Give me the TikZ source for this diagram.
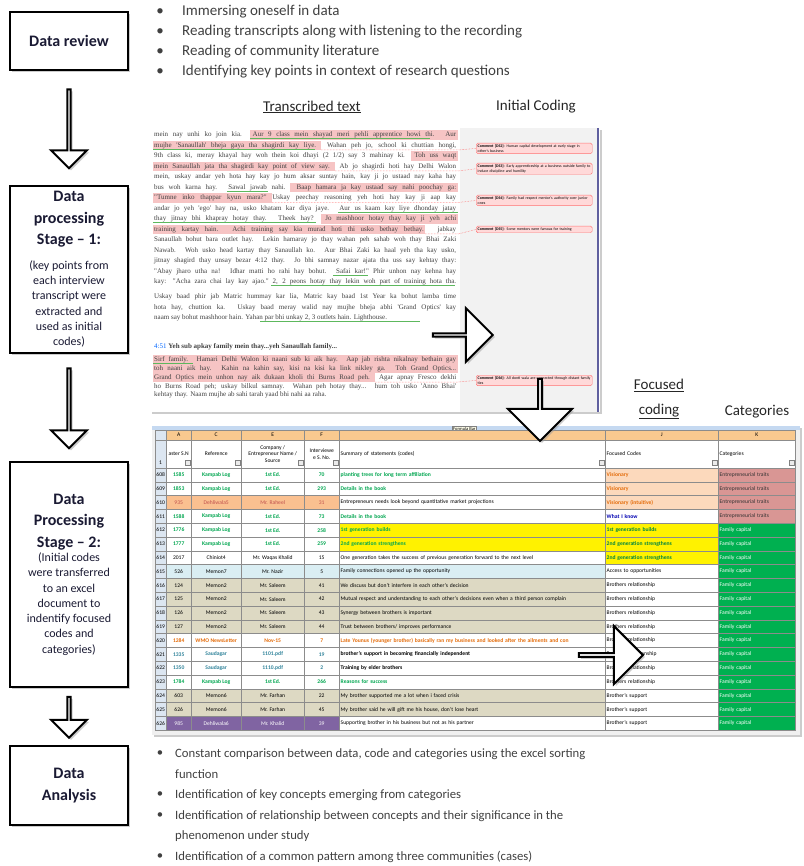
\documentclass[tikz,border=0pt]{standalone}
\usepackage{fontspec}
\setmainfont{Carlito}
\newfontfamily\transfont{Liberation Serif}
\usetikzlibrary{shapes.arrows,shadows,calc}

\definecolor{hlpink}{HTML}{F6C4C4}
\definecolor{ulgreen}{HTML}{5DB85D}
\definecolor{xlgrid}{HTML}{8C8C8C}
\definecolor{xlgreen}{HTML}{00A650}
\definecolor{xlpeach}{HTML}{FAC090}
\definecolor{xlred}{HTML}{C0504D}
\definecolor{xlblue}{HTML}{DAEEF3}
\definecolor{xltan}{HTML}{DDD9C3}
\definecolor{xlorange}{HTML}{E46C0A}
\definecolor{xlteal}{HTML}{31849B}
\definecolor{xlpurple}{HTML}{8064A2}
\definecolor{xlrose}{HTML}{D99694}
\definecolor{xlcat}{HTML}{00B050}
\definecolor{xlhead}{HTML}{F9C98F}
\definecolor{xlside}{HTML}{DCE6F1}
\definecolor{xlbar}{HTML}{C5D9F1}
\definecolor{boxtext}{HTML}{1A1A33}

\newcommand\titlefont{\bfseries\fontsize{16}{21.5}\selectfont}
\newcommand\notefont{\mdseries\fontsize{12}{15.3}\selectfont}
\newcommand\tfont{\transfont\fontsize{7}{8}\selectfont}
\newcommand\xlfont{\fontsize{5.6}{6.4}\selectfont}
\newcommand\cmfont{\fontsize{3.9}{4.6}\selectfont}

\tikzset{
  softshadow/.style={drop shadow={shadow xshift=2pt,shadow yshift=-2pt,fill=black!40}},
  stagebox/.style={draw,line width=2.5pt,fill=white,text=boxtext,font=\titlefont,minimum width=118pt,text width=112pt,align=flush center,inner sep=2pt,softshadow},
  blockarrow/.style={single arrow,draw,line width=2pt,fill=white,inner sep=0pt,single arrow head indent=0pt,softshadow},
  bul/.style={inner sep=0pt,text=black!75},
  btxt/.style={anchor=west,inner sep=0pt,text=black!75},
  lbl/.style={inner sep=0pt,font=\fontsize{15}{25}\selectfont,text=black!85},
  tline/.style={anchor=west,inner sep=0pt,font=\tfont,text=black!75},
  cmt/.style={anchor=north west,draw=red!55,fill=red!15,rounded corners=1.5pt,text width=113pt,inner sep=1.5pt,font=\cmfont,align=left},
  cmtlink/.style={red!60,densely dotted,line width=0.5pt},
  cell/.style={draw=xlgrid,line width=0.4pt,minimum height=13.8pt,inner sep=0pt,anchor=west,font=\xlfont},
  xa-g/.style={fill=white,text=xlgreen,font=\xlfont\bfseries},
  xs-g/.style={xa-g},
  xa-y/.style={xa-g},
  xs-y/.style={fill=yellow,text=xlgreen,font=\xlfont\bfseries},
  xa-o/.style={fill=xlpeach,text=xlred},
  xs-o/.style={fill=white,text=black},
  xa-k/.style={fill=white,text=black},
  xs-k/.style={xa-k},
  xa-b/.style={fill=xlblue,text=black},
  xs-b/.style={xa-b},
  xa-t/.style={fill=xltan,text=black},
  xs-t/.style={xa-t},
  xa-w/.style={fill=white,text=xlorange,font=\xlfont\bfseries},
  xs-w/.style={xa-w},
  xa-s/.style={fill=white,text=xlteal,font=\xlfont\bfseries},
  xs-s/.style={fill=white,text=black,font=\xlfont\bfseries},
  xa-p/.style={fill=xlpurple,text=white},
  xs-p/.style={xa-k},
  xj-o/.style={fill=xlpeach!60,text=xlorange,font=\xlfont\bfseries},
  xj-b/.style={fill=white,text=blue!70!black,font=\xlfont\bfseries},
  xj-y/.style={fill=yellow,text=xlgreen!80!black,font=\xlfont\bfseries},
  xj-k/.style={xa-k},
  xk-r/.style={fill=xlrose,text=black!80},
  xk-g/.style={fill=xlcat,text=white}
}

\begin{document}
\begin{tikzpicture}[x=1pt,y=-1pt]
\useasboundingbox (0,0) rectangle (803,866);

% stages
\node[stagebox,minimum height=58pt] (review) at (69,41) {Data review\par};
\node[stagebox,minimum height=167pt] (stage1) at (69,269.5) {Data\\ processing\\ Stage -- 1:\par\vspace{9pt}\notefont (key points from\\ each interview\\ transcript were\\ extracted and\\ used as initial\\ codes)\par};
\node[stagebox,minimum height=225pt] (stage2) at (69,574.5) {Data\\ Processing\\ Stage -- 2:\par\vspace{-1pt}\notefont (Initial codes\\ were transferred\\ to an excel\\ document to\\ indentify focused\\ codes and\\ categories)\par};
\node[stagebox,minimum height=79pt] (analysis) at (69,785.5) {Data\\ Analysis\par};

\node[blockarrow,rotate=-90,minimum height=79pt,minimum width=36pt,single arrow head extend=10pt] (ar1) at ($(review.south)!0.5!(stage1.north)$) {};
\node[blockarrow,rotate=-90,minimum height=80pt,minimum width=36pt,single arrow head extend=10pt] (ar2) at ($(stage1.south)!0.5!(stage2.north)$) {};
\node[blockarrow,rotate=-90,minimum height=41pt,minimum width=36pt,single arrow head extend=10pt] (ar3) at ($(stage2.south)!0.5!(analysis.north)$) {};

% bullet lists
\foreach \t [count=\nb] in {Immersing oneself in data,Reading transcripts along with listening to the recording,Reading of community literature,Identifying key points in context of research questions} {
  \node[bul,font=\fontsize{15}{18}\selectfont] (tb\nb) at (160,{12+20*(\nb-1)}) {\textbullet};
  \node[btxt,font=\fontsize{15}{18}\selectfont] (tt\nb) at (182,{12+20*(\nb-1)}) {\t};
}
\begin{scope}[every node/.append style={font=\fontsize{12.7}{15}\selectfont}]
  \node[bul] (bb1) at (160,754) {\textbullet};
  \node[bul] (bb2) at (160,795) {\textbullet};
  \node[bul] (bb3) at (160,816) {\textbullet};
  \node[bul] (bb4) at (160,857) {\textbullet};
  \node[btxt] (bl1) at (175,754) {Constant comparison between data, code and categories using the excel sorting};
  \node[btxt] (bl2) at (175,774) {function};
  \node[btxt] (bl3) at (175,795) {Identification of key concepts emerging from categories};
  \node[btxt] (bl4) at (175,816) {Identification of relationship between concepts and their significance in the};
  \node[btxt] (bl5) at (175,836) {phenomenon under study};
  \node[btxt] (bl6) at (175,857) {Identification of a common pattern among three communities (cases)};
\end{scope}

% labels
\node[lbl] (transcribed) at (312,107) {\underline{Transcribed text}};
\node[lbl] (initial) at (536,107) {Initial Coding};
\node[lbl,align=center] (focused) at (659,399) {\underline{Focused}\\\underline{coding}};
\node[lbl] (categories) at (757,412) {Categories};

% transcript screenshot
\path[fill=white,softshadow] (150,128) rectangle (600,412);
\fill[black!5] (460,128) rectangle (598,412);
\draw[blue!25!gray,line width=1.5pt] (598,128) -- (598,412);
\foreach \ya/\xa/\xb in {135/250/458,145.5/153/321,156/411/458,166.5/153/335,187.5/290/458,198/153/272,219/321/458,229.5/153/425,360/153/458,368.8/153/458,377.6/153/375}
  \fill[hlpink] (\xa,\ya-4.6) rectangle (\xb,\ya+4.6);
\foreach \ya/\xa/\xb in {135/250/430,145.5/153/315,187.5/227/268,208.5/338/458,219/153/316,271.5/333/368,282/271/455,318/260/420,360/153/193}
  \draw[ulgreen,line width=0.5pt] (\xa,\ya+3.6) -- (\xb,\ya+3.6);
\foreach \tx [count=\nl] in {
  {mein nay unhi ko join kia. Aur 9 class mein shayad meri pehli apprentice howi thi. Aur},
  {mujhe 'Sanaullah' bheja gaya tha shagirdi kay liye. Wahan peh jo, school ki chuttian hongi,},
  {9th class ki, meray khayal hay woh thein koi dhayi (2 1/2) say 3 mahinay ki. Toh uss waqt},
  {mein Sanaullah jata tha shagirdi kay point of view say. Ab jo shagirdi hoti hay Delhi Walon},
  {mein, uskay andar yeh hota hay kay jo hum aksar suntay hain, kay ji jo ustaad nay kaha hay},
  {bus woh karna hay. Sawal jawab nahi. Baap hamara ja kay ustaad say nahi poochay ga:},
  {"Tumne inko thappar kyun mara?" Uskay peechay reasoning yeh hoti hay kay ji aap kay},
  {andar jo yeh 'ego' hay na, usko khatam kar diya jaye. Aur us kaam kay liye dhonday jatay},
  {thay jitnay bhi khapray hotay thay. Theek hay? Jo mashhoor hotay thay kay ji yeh achi},
  {training kartay hain. Achi training say kia murad hoti thi usko bethay bethay. jabkay},
  {Sanaullah bohut bara outlet hay. Lekin hamaray jo thay wahan peh sahab woh thay Bhai Zaki},
  {Nawab. Woh usko head kartay thay Sanaullah ko. Aur Bhai Zaki ka haal yeh tha kay usko,},
  {jitnay shagird thay unsay bezar 4:12 thay. Jo bhi samnay nazar ajata tha uss say kehtay thay:},
  {"Abay jharo utha na! Idhar matti ho rahi hay bohut. Safai kar!" Phir unhon nay kehna hay},
  {kay: "Acha zara chai lay kay ajao." 2, 2 peons hotay thay lekin woh part of training hota tha.}}
  \node[tline] (tl\nl) at (154,{135+10.5*(\nl-1)}) {\makebox[302pt][s]{\tx}};
\node[tline] (tp1) at (154,297) {\makebox[302pt][s]{Uskay baad phir jab Matric hummay kar lia, Matric kay baad 1st Year ka bohut lamba time}};
\node[tline] (tp2) at (154,307.5) {\makebox[302pt][s]{hota hay, chuttion ka. Uskay baad meray walid nay mujhe bheja abhi 'Grand Optics' kay}};
\node[tline] (tp3) at (154,318) {naam say bohut mashhoor hain. Yahan par bhi unkay 2, 3 outlets hain. Lighthouse.};
\node[tline] (tq) at (154,347) {\textcolor{blue!60!cyan}{4:51} \textbf{Yeh sub apkay family mein thay...yeh Sanaullah family...}};
\node[tline] (ts1) at (154,360) {\makebox[302pt][s]{Sirf family. Hamari Delhi Walon ki naani sub ki aik hay. Aap jab rishta nikalnay bethain gay}};
\node[tline] (ts2) at (154,368.8) {\makebox[302pt][s]{toh naani aik hay. Kahin na kahin say, kisi na kisi ka link nikley ga. Toh Grand Optics...}};
\node[tline] (ts3) at (154,377.6) {\makebox[302pt][s]{Grand Optics mein unhon nay aik dukaan kholi thi Burns Road peh. Agar apnay Fresco dekhi}};
\node[tline] (ts4) at (154,386.4) {\makebox[302pt][s]{ho Burns Road peh; uskay bilkul samnay. Wahan peh hotay thay... hum toh usko 'Anno Bhai'}};
\node[tline] (ts5) at (154,395.2) {kehtay thay. Naam mujhe ab sahi tarah yaad bhi nahi aa raha.};

\node[cmt] (c2) at (476,143) {\textbf{Comment [DS2]:} Human capital development at early stage in other's business};
\node[cmt] (c3) at (476,163) {\textbf{Comment [DS3]:} Early apprenticeship at a business outside family to induce discipline and humility};
\node[cmt] (c4) at (476,195) {\textbf{Comment [DS4]:} Family had respect mentor's authority over junior ones};
\node[cmt] (c5) at (476,226) {\textbf{Comment [DS5]:} Some mentors were famous for training};
\node[cmt] (c6) at (476,375) {\textbf{Comment [DS6]:} All donti wala are connected through distant family ties};
\coordinate (h2) at (321,150);
\coordinate (h3) at (335,171);
\coordinate (h4) at (272,202.5);
\coordinate (h5) at (425,234);
\coordinate (h6) at (375,382);
\draw[cmtlink] (h2) -- (458,150) -- (c2.west);
\draw[cmtlink] (h3) -- (458,171) -- (c3.west);
\draw[cmtlink] (h4) -- (458,202.5) -- (c4.west);
\draw[cmtlink] (h5) -- (458,234) -- (c5.west);
\draw[cmtlink] (h6) -- (458,382) -- (c6.west);

\node[blockarrow,minimum height=60pt,minimum width=54pt,single arrow head extend=16pt] (artr) at (462,335) {};

% excel screenshot
\path[fill=black!6,softshadow] (152,426) rectangle (800,735);
\fill[xlbar] (152,426) rectangle (800,430);
\node[draw=black!50,fill=yellow!8,font=\fontsize{4.5}{5}\selectfont,inner sep=1pt,anchor=north west] (fbar) at (452,426) {Formula Bar};
\node[cell,fill=xlside,minimum width=11pt,minimum height=10pt] (corner) at (155,435) {};
\foreach \lx/\lw/\lt in {166/25/A,191/50/C,241/63/E,304/35/F,339/266/,605/113/J,718/77/K}
  \node[cell,fill=xlhead,minimum width=\lw pt,minimum height=10pt] (col\lt) at (\lx,435) {\lt};
\node[cell,fill=xlside,minimum width=11pt,minimum height=28pt] (n1) at (155,454) {};
\node[inner sep=0pt,font=\xlfont] (n1t) at (160.5,463) {1};
\node[cell,fill=white,minimum width=25pt,minimum height=28pt] (ha) at (166,454) {aster S.N};
\node[cell,fill=white,minimum width=50pt,minimum height=28pt] (hc) at (191,454) {Reference};
\node[cell,fill=white,minimum width=63pt,minimum height=28pt,align=center] (he) at (241,454) {Company /\\Entrepreneur Name /\\Source};
\node[cell,fill=white,minimum width=35pt,minimum height=28pt,align=center] (hf) at (304,454) {Interviewe\\e S. No.};
\node[cell,fill=white,text width=263pt,inner xsep=1.5pt,minimum height=28pt,align=left] (hs) at (339,454) {Summary of statements (codes)};
\node[cell,fill=white,text width=110pt,inner xsep=1.5pt,minimum height=28pt,align=left] (hj) at (605,454) {Focused Codes};
\node[cell,fill=white,text width=74pt,inner xsep=1.5pt,minimum height=28pt,align=left] (hk) at (718,454) {Categories};
\foreach \bx in {185,235,298,333,599,712,789}
  \draw[black!50,fill=black!8] (\bx,460) rectangle ++(5,5);
\foreach \row/\num/\ma/\mr/\me/\mf/\su/\fo/\ca/\sa/\sj/\sk in {
  0/608/1585/Kampab Log/1st Ed./70/planting trees for long term affiliation/Visionary/Entrepreneurial traits/g/o/r,
  1/609/1853/Kampab Log/1st Ed./293/Details in the book/Visionary/Entrepreneurial traits/g/o/r,
  2/610/935/Dehliwala5/Mr. Raheel/31/Entrepreneurs needs look beyond quantitative market projections/Visionary (intuitive)/Entrepreneurial traits/o/o/r,
  3/611/1588/Kampab Log/1st Ed./73/Details in the book/What I know/Entrepreneurial traits/g/b/r,
  4/612/1776/Kampab Log/1st Ed./258/1st generation builds/1st generation builds/Family capital/y/y/g,
  5/613/1777/Kampab Log/1st Ed./259/2nd generation strengthens/2nd generation strengthens/Family capital/y/y/g,
  6/614/2017/Chiniot4/Mr. Waqas Khalid/15/One generation takes the success of previous generation forward to the next level/2nd generation strengthens/Family capital/k/y/g,
  7/615/526/Memon7/Mr. Nazir/5/Family connections opened up the opportunity/Access to opportunities/Family capital/b/k/g,
  8/616/124/Memon2/Mr. Saleem/41/We discuss but don't interfere in each other's decision/Brothers relationship/Family capital/t/k/g,
  9/617/125/Memon2/Mr. Saleem/42/Mutual respect and understanding to each other's decisions even when a third person complain/Brothers relationship/Family capital/t/k/g,
  10/618/126/Memon2/Mr. Saleem/43/Synergy between brothers is important/Brothers relationship/Family capital/t/k/g,
  11/619/127/Memon2/Mr. Saleem/44/{Trust between brothers/ improves performance}/Brothers relationship/Family capital/t/k/g,
  12/620/1284/WMO NewsLetter/Nov-15/7/Late Younus (younger brother) basically ran my business and looked after the ailments and con/Brothers relationship/Family capital/w/k/g,
  13/621/1335/Saudagar/1101.pdf/19/brother's support in becoming financially independent/Brother's relationship/Family capital/s/k/g,
  14/622/1350/Saudagar/1110.pdf/2/Training by elder brothers/Brothers relationship/Family capital/s/k/g,
  15/623/1784/Kampab Log/1st Ed./266/Reasons for success/Brothers relationship/Family capital/g/k/g,
  16/624/603/Memon6/Mr. Farhan/22/My brother supported me a lot when i faced crisis/Brother's support/Family capital/t/k/g,
  17/625/626/Memon6/Mr. Farhan/45/{My brother said he will gift me his house, don't lose heart}/Brother's support/Family capital/t/k/g,
  18/626/985/Dehliwala6/Mr. Khalid/39/Supporting brother in his business but not as his partner/Brother's support/Family capital/p/k/g} {
  \pgfmathsetmacro\yc{474.9+13.8*\row}
  \node[cell,fill=xlside,minimum width=11pt] (n\num) at (155,\yc) {\num};
  \node[cell,xa-\sa,minimum width=25pt] (a\num) at (166,\yc) {\ma};
  \node[cell,xa-\sa,minimum width=50pt] (r\num) at (191,\yc) {\mr};
  \node[cell,xa-\sa,minimum width=63pt] (e\num) at (241,\yc) {\me};
  \node[cell,xa-\sa,minimum width=35pt] (f\num) at (304,\yc) {\mf};
  \node[cell,xs-\sa,text width=263pt,inner xsep=1.5pt,align=left] (s\num) at (339,\yc) {\su};
  \node[cell,xj-\sj,text width=110pt,inner xsep=1.5pt,align=left] (j\num) at (605,\yc) {\fo};
  \node[cell,xk-\sk,text width=74pt,inner xsep=1.5pt,align=left] (k\num) at (718,\yc) {\ca};
}

\node[blockarrow,minimum height=64pt,minimum width=58pt,single arrow head extend=15pt] (arxl) at (610,655) {};
\node[blockarrow,rotate=-90,minimum height=62pt,minimum width=64pt,single arrow head extend=16pt] (ardown) at (540,409) {};
\end{tikzpicture}
\end{document}
